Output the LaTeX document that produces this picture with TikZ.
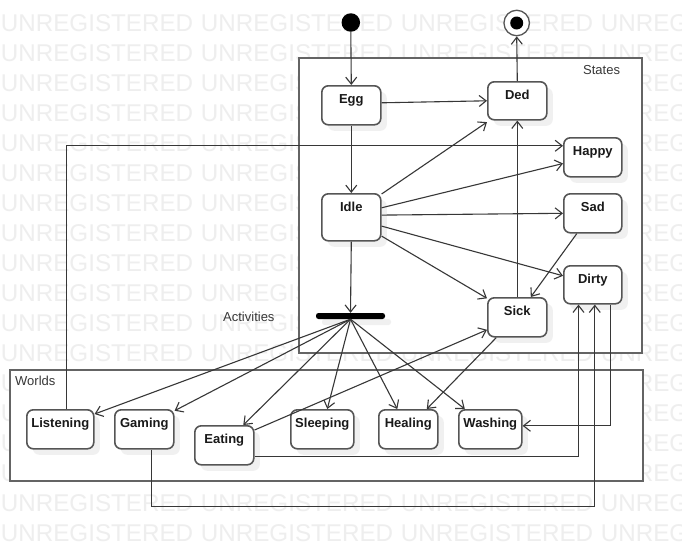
\documentclass[tikz,border=0pt]{standalone}
\usepackage{fontspec}
\setmainfont{Liberation Sans}
\usetikzlibrary{arrows.meta}
\definecolor{linec}{RGB}{55,55,55}
\definecolor{boxc}{RGB}{85,85,85}
\definecolor{framec}{RGB}{100,100,100}
\definecolor{shadowc}{RGB}{240,240,240}
\definecolor{wmc}{RGB}{238,238,238}
\definecolor{txtc}{RGB}{25,25,25}
\definecolor{lblc}{RGB}{55,55,55}
\begin{document}
\begin{tikzpicture}[x=1pt,y=-1pt,
  conn/.style={draw=linec, line width=1.1pt},
  arr/.style={conn, -{Straight Barb[length=7pt,width=11pt,line width=1.1pt]}},
  shadowed/.style={preaction={fill=shadowc, transform canvas={shift={(6pt,-6pt)}}}},
  statebox/.style 2 args={draw=boxc, line width=1.6pt, fill=white, rounded corners=6.5pt,
    anchor=north west, minimum width=#1, inner xsep=0pt, inner ysep=0pt,
    text height=17.7pt, text depth=#2, text=txtc,
    font=\fontsize{13}{15}\selectfont\bfseries, shadowed},
  framebox/.style={draw=framec, line width=1.6pt, fill=white, anchor=north west, inner sep=0pt},
  lbl/.style={anchor=base west, inner sep=0pt, text=lblc, font=\fontsize{13}{15}\selectfont},
  wm/.style={anchor=base west, inner sep=0pt, text=wmc, font=\fontsize{24.2}{25}\selectfont}]
\useasboundingbox (0,0) rectangle (682,546);
\fill[white] (0,0) rectangle (682,546);
% watermark
\foreach \k in {0,...,17}{
  \foreach \j in {0,...,3}{
    \node[wm] (wm-\j-\k) at ({0.7+200*\j},{31.7+30*\k}) {UNREGISTERED};
  }
}
% frames
\node[framebox, minimum width=343pt, minimum height=295pt] (states) at (298,57) {};
\node[framebox, minimum width=633pt, minimum height=111pt] (worlds) at (9,369) {};
\node[lbl] (stateslbl) at (583,74) {States};
\node[lbl] (worldslbl) at (15,385.5) {Worlds};
\node[lbl] (actlbl) at (223,321.5) {Activities};
% pseudo states
\node[circle, fill=black, minimum size=18.5pt, inner sep=0pt] (init) at (350.8,22.5) {};
\node[circle, draw=boxc, line width=1.3pt, fill=white, minimum size=25.5pt, inner sep=0pt] (final) at (516.7,23) {};
\node[circle, fill=black, minimum size=13pt, inner sep=0pt] (finalin) at (final.center) {};
\node[fill=black, rounded corners=2.5pt, minimum width=69pt, minimum height=6pt, inner sep=0pt, shadowed] (bar) at (350.5,316) {};
% states
\node[statebox={59pt}{21.3pt}] (Egg) at (321,85) {Egg};
\node[statebox={59pt}{20.3pt}] (Ded) at (487,81) {Ded};
\node[statebox={58pt}{21.3pt}] (Happy) at (563,137) {Happy};
\node[statebox={59pt}{29.3pt}] (Idle) at (321,193) {Idle};
\node[statebox={58pt}{21.3pt}] (Sad) at (563,193) {Sad};
\node[statebox={58pt}{20.3pt}] (Dirty) at (563,265) {Dirty};
\node[statebox={59pt}{21.3pt}] (Sick) at (487,297) {Sick};
\node[statebox={67pt}{21.3pt}] (Listening) at (26,409) {Listening};
\node[statebox={59pt}{21.3pt}] (Gaming) at (114,409) {Gaming};
\node[statebox={59pt}{21.3pt}] (Eating) at (194,425) {Eating};
\node[statebox={63pt}{21.3pt}] (Sleeping) at (290,409) {Sleeping};
\node[statebox={59pt}{21.3pt}] (Healing) at (378,409) {Healing};
\node[statebox={63pt}{21.3pt}] (Washing) at (458,409) {Washing};
% connectors
\draw[arr] (init.south) -- (Egg.north);
\draw[arr] ([yshift=2.5pt]Egg.east) -- (Ded.west);
\draw[arr] (Ded.north) -- (final.south);
\draw[arr] (Egg.south) -- (Idle.north);
\draw[arr] ([yshift=-1pt]Idle.north east) -- ([yshift=-1.5pt]Ded.south west);
\draw[arr] ([yshift=9.5pt]Idle.east) -- ([yshift=-6.2pt]Happy.west);
\draw[arr] ([yshift=2.2pt]Idle.east) -- (Sad.west);
\draw[arr] ([yshift=-8.8pt]Idle.east) -- ([yshift=9pt]Dirty.west);
\draw[arr] ([yshift=-18.8pt]Idle.east) -- ([yshift=-1.3pt]Sick.north west);
\draw[arr] (Idle.south) -- (bar.north);
\draw[arr] (Sick.north) -- (Ded.south);
\draw[arr] ([xshift=-16pt]Sad.south) -- ([xshift=13.5pt]Sick.north);
\draw[arr] ([xshift=6.5pt]Listening.north) |- ([yshift=11.5pt]Happy.west);
\draw[arr] (bar.south) -- ([yshift=-5pt]Listening.north east);
\draw[arr] (bar.south) -- ([yshift=-1.7pt]Gaming.north east);
\draw[arr] (bar.south) -- ([xshift=19pt]Eating.north);
\draw[arr] (bar.south) -- ([xshift=5pt]Sleeping.north);
\draw[arr] (bar.south) -- ([xshift=-11pt]Healing.north);
\draw[arr] (bar.south) -- ([xshift=-25.5pt]Washing.north);
\draw[arr] ([xshift=-21pt]Sick.south) -- ([xshift=18.5pt]Healing.north);
\draw[arr] ([yshift=-5pt]Eating.north east) -- ([yshift=-12.5pt]Sick.west);
\draw[arr] ([yshift=-11.5pt]Eating.east) -| ([xshift=-14.3pt]Dirty.south);
\draw[arr] ([xshift=7.5pt]Gaming.south) -- ++(0,57) -| ([xshift=2pt]Dirty.south);
\draw[arr] ([xshift=18pt]Dirty.south) |- ([yshift=3.5pt]Washing.east);
\end{tikzpicture}
\end{document}
